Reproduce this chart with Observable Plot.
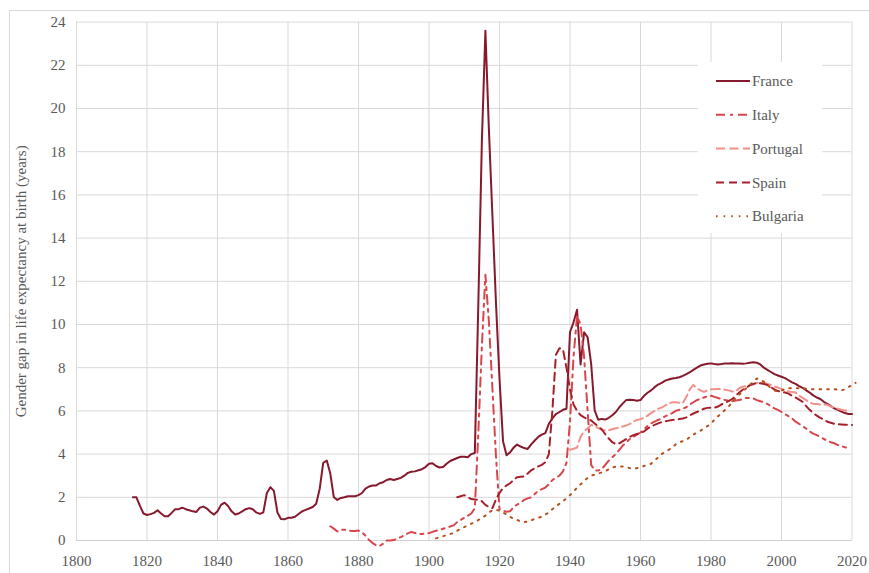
<!DOCTYPE html>
<html><head><meta charset="utf-8">
<script src="https://cdn.jsdelivr.net/npm/d3@7"></script>
<script src="https://cdn.jsdelivr.net/npm/@observablehq/plot@0.6"></script>
<style>
body{margin:0;background:#fff;}
#chart{position:relative;width:869px;height:573px;overflow:hidden;}
#border{position:absolute;left:9px;top:10px;width:880px;height:580px;border:1px solid #d9d9d9;box-sizing:border-box;pointer-events:none}
#chart svg{position:absolute;left:0;top:0;}
#chart svg text{font-family:"Liberation Serif","Times New Roman",serif !important;}
</style></head><body><div id="chart"><div id="border"></div></div>
<script>
// Gender gap in life expectancy at birth (years), annual values from the start year on
const franceStart = 1816;
const franceGap = [2.0,2.0,1.6,1.25,1.18,1.22,1.28,1.4,1.25,1.12,1.12,1.28,1.45,1.45,1.52,1.45,1.4,1.35,1.32,1.52,
1.57,1.48,1.32,1.2,1.35,1.65,1.75,1.6,1.35,1.2,1.25,1.35,1.45,1.5,1.45,1.3,1.23,1.3,2.2,2.47,
2.3,1.3,1.0,0.98,1.05,1.05,1.1,1.23,1.35,1.42,1.48,1.55,1.7,2.4,3.6,3.7,3.1,2.0,1.88,1.97,
2.0,2.05,2.05,2.05,2.1,2.2,2.4,2.5,2.55,2.55,2.65,2.7,2.8,2.85,2.8,2.85,2.9,3.0,3.13,3.18,
3.2,3.25,3.3,3.4,3.55,3.58,3.45,3.38,3.4,3.55,3.68,3.75,3.82,3.88,3.88,3.85,4.0,4.05,11.0,18.5,
23.6,19.0,15.0,11.0,7.5,4.6,3.95,4.08,4.3,4.44,4.35,4.28,4.24,4.45,4.63,4.8,4.9,4.97,5.4,5.65,
5.85,5.95,6.05,6.1,9.64,10.1,10.68,8.15,9.64,9.41,8.18,6.02,5.59,5.63,5.6,5.68,5.8,5.95,6.17,6.35,
6.51,6.52,6.5,6.47,6.5,6.7,6.84,6.95,7.1,7.22,7.3,7.4,7.45,7.5,7.52,7.56,7.62,7.7,7.79,7.9,
8.0,8.1,8.15,8.18,8.2,8.17,8.15,8.17,8.2,8.2,8.21,8.2,8.19,8.18,8.2,8.23,8.25,8.23,8.15,8.0,
7.9,7.8,7.7,7.64,7.58,7.52,7.42,7.32,7.25,7.15,7.07,6.95,6.85,6.72,6.62,6.55,6.42,6.33,6.22,6.12,
6.05,5.97,5.9,5.86,5.86];
const italyStart = 1872;
const italyGap = [0.66,0.55,0.42,0.5,0.5,0.47,0.44,0.44,0.46,0.38,0.22,0.02,-0.12,-0.22,-0.25,-0.15,0.0,0.0,0.02,0.08,
0.16,0.25,0.33,0.4,0.35,0.31,0.3,0.32,0.34,0.4,0.45,0.5,0.54,0.6,0.65,0.7,0.85,0.95,1.05,1.15,
1.25,1.5,5.0,9.0,12.3,10.1,7.0,3.9,1.45,1.38,1.33,1.35,1.55,1.66,1.75,1.88,1.95,2.0,2.15,2.3,
2.38,2.45,2.6,2.8,2.9,3.0,3.2,3.6,5.5,8.5,10.4,10.0,8.5,6.0,3.5,3.25,3.24,3.3,3.5,3.7,
3.85,4.0,4.2,4.4,4.55,4.7,4.8,4.9,5.0,5.15,5.3,5.42,5.5,5.58,5.65,5.75,5.82,5.9,6.0,6.05,
6.1,6.17,6.3,6.4,6.5,6.55,6.62,6.68,6.7,6.65,6.6,6.55,6.5,6.48,6.45,6.48,6.5,6.55,6.6,6.6,
6.58,6.5,6.45,6.4,6.32,6.22,6.12,6.05,5.95,5.85,5.75,5.65,5.5,5.4,5.3,5.18,5.05,4.95,4.88,4.8,
4.7,4.62,4.55,4.5,4.42,4.37,4.32,4.28];
const portugalStart = 1940;
const portugalGap = [4.2,4.25,4.3,4.8,5.05,5.2,5.35,5.3,5.2,5.12,5.1,5.1,5.15,5.2,5.22,5.28,5.33,5.4,5.5,5.58,
5.62,5.68,5.78,5.9,6.0,6.1,6.15,6.25,6.35,6.4,6.4,6.38,6.36,6.65,7.0,7.2,7.05,6.95,6.88,6.95,
7.0,7.0,7.02,7.0,6.98,6.95,6.9,6.9,7.05,7.12,7.15,7.2,7.22,7.3,7.33,7.3,7.25,7.2,7.12,7.08,
7.02,6.95,6.9,6.88,6.85,6.7,6.6,6.5,6.38,6.33,6.32,6.3,6.3,6.28,6.2,6.15,6.1,6.05,6.02,6.0];
const spainStart = 1908;
const spainGap = [2.0,2.05,2.1,2.0,1.92,1.9,1.88,1.82,1.65,1.55,1.5,1.9,2.2,2.42,2.55,2.65,2.8,2.93,2.95,2.97,
3.1,3.25,3.35,3.43,3.5,3.62,4.0,6.0,8.6,8.9,8.85,8.0,7.0,6.3,6.0,5.8,5.7,5.62,5.56,5.42,
5.28,5.15,4.92,4.72,4.55,4.46,4.5,4.6,4.7,4.8,4.88,4.93,4.98,5.05,5.18,5.28,5.35,5.42,5.48,5.52,
5.55,5.58,5.6,5.62,5.65,5.7,5.8,5.88,5.95,6.02,6.1,6.14,6.15,6.15,6.2,6.3,6.38,6.45,6.55,6.7,
6.85,6.98,7.08,7.18,7.25,7.3,7.28,7.25,7.2,7.1,7.0,6.92,6.88,6.85,6.8,6.7,6.62,6.52,6.42,6.22,
6.05,5.9,5.78,5.68,5.6,5.5,5.45,5.4,5.38,5.37,5.36,5.35,5.35];
const bulgariaStart = 1902;
const bulgariaGap = [0.1,0.15,0.2,0.25,0.3,0.35,0.45,0.55,0.62,0.7,0.78,0.85,0.95,1.05,1.15,1.3,1.4,1.42,1.38,1.3,
1.2,1.1,1.0,0.95,0.88,0.85,0.88,0.93,1.0,1.05,1.1,1.2,1.3,1.45,1.58,1.7,1.82,1.95,2.1,2.25,
2.45,2.6,2.75,2.9,3.0,3.05,3.1,3.15,3.2,3.3,3.38,3.42,3.43,3.43,3.4,3.35,3.33,3.35,3.4,3.45,
3.5,3.55,3.7,3.85,4.0,4.1,4.2,4.3,4.45,4.55,4.6,4.65,4.8,4.9,5.0,5.08,5.2,5.3,5.4,5.6,
5.75,5.9,6.05,6.2,6.4,6.6,6.75,6.9,7.05,7.2,7.35,7.5,7.45,7.35,7.2,7.05,6.95,6.9,6.95,7.0,
7.05,7.05,7.05,7.05,7.05,7.02,7.0,7.0,7.0,7.0,7.0,7.0,7.0,7.0,6.98,6.95,7.0,7.1,7.2,7.3];

const seriesNames = ["France","Italy","Portugal","Spain","Bulgaria"];
const seriesStarts = [franceStart, italyStart, portugalStart, spainStart, bulgariaStart];
const seriesValues = [franceGap, italyGap, portugalGap, spainGap, bulgariaGap];
const seriesColors = ["#861a2c","#d8464c","#f2908a","#a6202c","#b4521f"];
const seriesDash = [null, "9 5 3 5", "9 4.5", "8 5", "1.6 6"];
const xTicks = d3.range(1800, 2021, 20);
const yTicks = d3.range(0, 25, 2);

const series = seriesNames.map((name, k) => ({
  name, color: seriesColors[k], dash: seriesDash[k],
  data: seriesValues[k].map((v, i) => ({year: seriesStarts[k] + i, gap: v}))
}));

const font = "'Liberation Serif', 'Times New Roman', serif";
const textColor = "#595959";

const plot = Plot.plot({
  width: 869, height: 573,
  marginLeft: 76, marginRight: 17.5, marginTop: 21.6, marginBottom: 33,
  style: {fontFamily: font, fontSize: "15px", color: textColor, background: "transparent", overflow: "visible"},
  x: {domain: [1800, 2020]},
  y: {domain: [0, 24]},
  marks: [
    Plot.gridX(xTicks, {stroke: "#d9d9d9", strokeOpacity: 1, strokeWidth: 1}),
    Plot.gridY(yTicks, {stroke: "#d9d9d9", strokeOpacity: 1, strokeWidth: 1}),
    Plot.ruleY([0], {stroke: "#d0d0d0", strokeWidth: 1.2}),
    Plot.axisX(xTicks, {tickSize: 0, tickPadding: 15, tickFormat: d => String(d), fill: textColor, fontSize: 15, label: null}),
    Plot.axisY(yTicks, {tickSize: 0, tickPadding: 11, fill: textColor, fontSize: 15,
      label: "Gender gap in life expectancy at birth (years)", labelAnchor: "center", labelArrow: "none", labelOffset: 61}),
    ...series.map(s => Plot.line(s.data, {x: "year", y: "gap", stroke: s.color, strokeWidth: 2,
      strokeDasharray: s.dash || undefined, strokeLinejoin: "round", curve: "linear"}))
  ]
});
document.getElementById("chart").appendChild(plot);

// Legend overlay
const svg = d3.select(plot);
svg.selectAll("text").attr("font-family", font);
const lg = svg.append("g").attr("font-family", font).attr("font-size", 15).attr("fill", textColor)
  .attr("text-anchor", "start");
lg.append("rect").attr("x", 698).attr("y", 62).attr("width", 124).attr("height", 171).attr("fill", "#fff");
series.forEach((s, i) => {
  const y = 81 + i * 33.8;
  lg.append("line").attr("x1", 716).attr("x2", 750).attr("y1", y).attr("y2", y)
    .attr("stroke", s.color).attr("stroke-width", 2).attr("stroke-dasharray", s.dash);
  lg.append("text").attr("x", 752).attr("y", y).attr("dy", "0.35em").attr("text-anchor", "start").text(s.name);
});
</script>
</body></html>
